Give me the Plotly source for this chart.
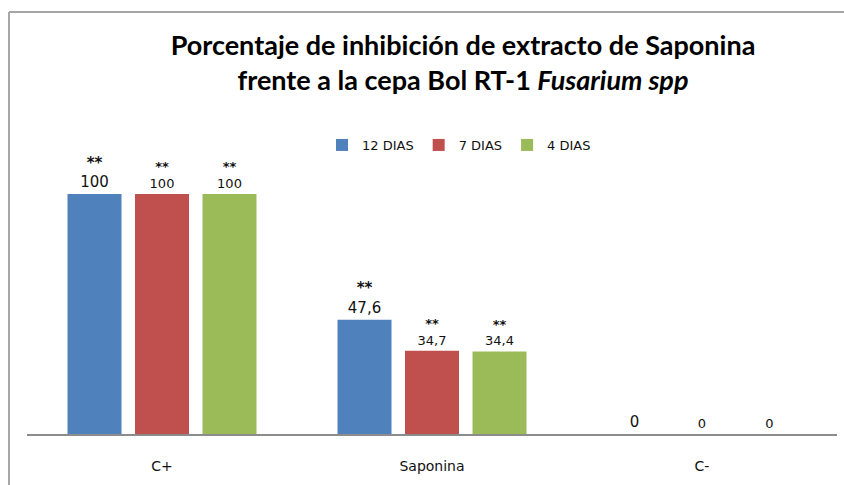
import plotly.graph_objects as go

categories = ["C+", "Saponina", "C-"]
series_names = ["12 DIAS", "7 DIAS", "4 DIAS"]
dias_12 = [100, 47.6, 0]
dias_7 = [100, 34.7, 0]
dias_4 = [100, 34.4, 0]
stars = ["**", "**", ""]

colors = ["#4F81BD", "#C0504D", "#9BBB59"]
label_sizes = [15, 13, 13]

W, H = 844, 485
L, R, T, B = 27, 7, 146, 51
y_top = 120


def fmt(v):
    return f"{v:g}".replace(".", ",")


def labels(vals):
    out = []
    for v, st in zip(vals, stars):
        if st:
            out.append(f"<b>{st}</b><br>{fmt(v)}")
        else:
            out.append(fmt(v))
    return out


fig = go.Figure()
for name, vals, col, fs in zip(series_names, [dias_12, dias_7, dias_4], colors, label_sizes):
    fig.add_trace(go.Bar(
        x=categories, y=vals, name=name,
        marker=dict(color=col, line=dict(width=0)),
        text=labels(vals), textposition="outside",
        textfont=dict(family="DejaVu Sans", size=fs, color="#111111"),
        constraintext="none", cliponaxis=False,
    ))

# outer chart border (top and left edges)
px = lambda x: (x - L) / (W - L - R)
py = lambda y: (H - B - y) / (H - T - B)
border = dict(color="#A6A6A6", width=2)
fig.add_shape(type="line", xref="paper", yref="paper",
              x0=px(9), x1=px(850), y0=py(12), y1=py(12), line=border)
fig.add_shape(type="line", xref="paper", yref="paper",
              x0=px(9), x1=px(9), y0=py(12), y1=py(490), line=border)

fig.update_layout(
    width=W, height=H,
    margin=dict(l=L, r=R, t=T, b=B),
    paper_bgcolor="white", plot_bgcolor="white",
    barmode="group", bargap=0.25, bargroupgap=0.2,
    title=dict(
        text="<b>Porcentaje de inhibición de extracto de Saponina<br>frente a la cepa Bol RT-1 <i>Fusarium spp</i></b>",
        x=463 / W, xanchor="center", y=1 - 55 / H, yanchor="top",
        font=dict(family="Lato", size=27, color="#000000"),
    ),
    legend=dict(
        orientation="h", x=px(459), xanchor="center", xref="paper",
        y=py(145), yanchor="middle",
        font=dict(family="DejaVu Sans", size=13, color="#111111"),
        traceorder="normal",
    ),
    xaxis=dict(
        showline=True, linecolor="#8C8C8C", linewidth=2,
        ticks="", ticklabelstandoff=18,
        tickfont=dict(family="DejaVu Sans", size=14, color="#111111"),
        showgrid=False,
    ),
    yaxis=dict(range=[0, y_top], visible=False, showgrid=False),
    separators=",.",
    showlegend=True,
)

fig.write_html("out.html", config={"displayModeBar": False},
               post_script="document.body.style.margin='0';")
